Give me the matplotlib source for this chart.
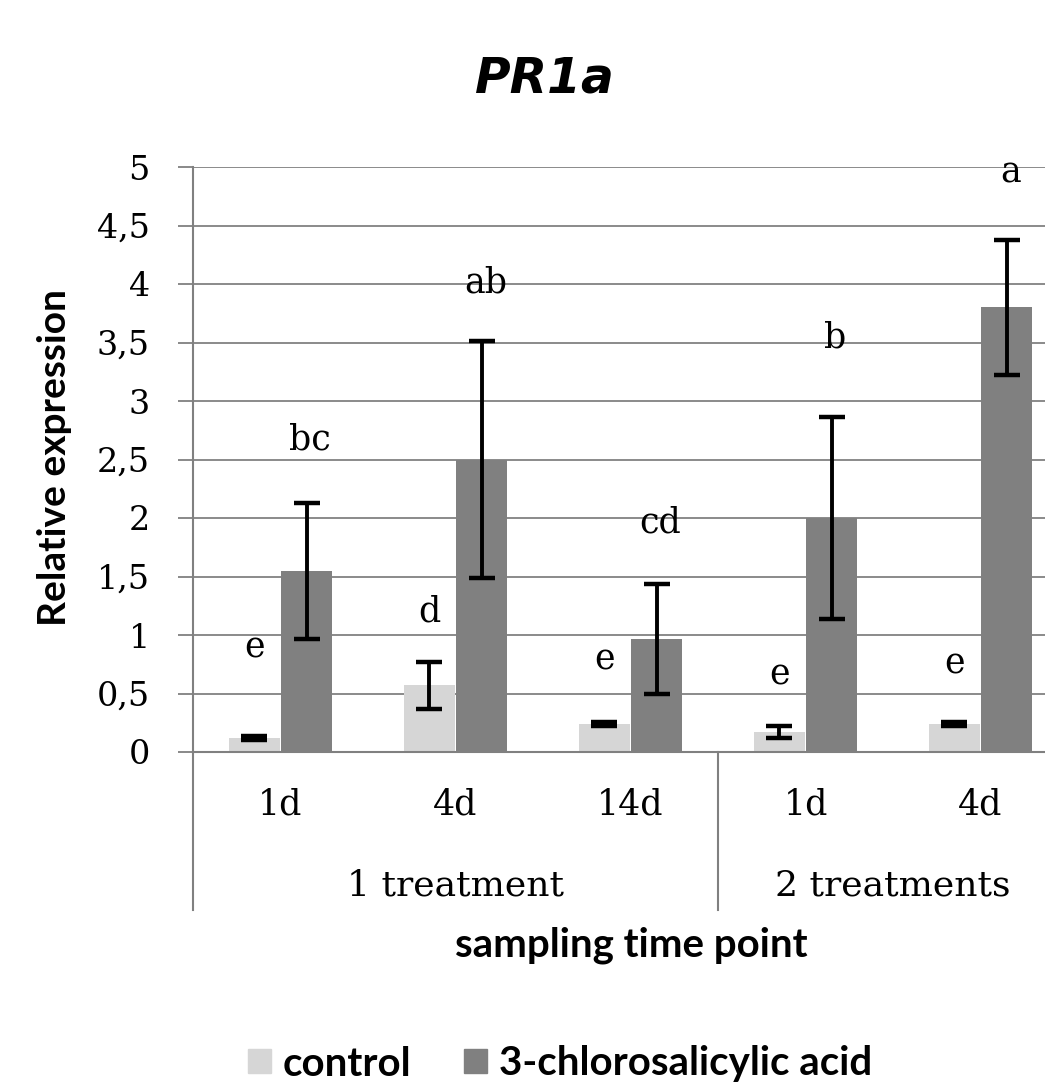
import numpy as np
import matplotlib.pyplot as plt
from matplotlib.patches import Patch

# données
times = ["1d", "4d", "14d", "1d", "4d"]
groups = ["1 treatment", "2 treatments"]
group_sizes = [3, 2]
control = [0.12, 0.57, 0.24, 0.17, 0.24]
control_err = [0.02, 0.20, 0.02, 0.05, 0.02]
acid = [1.55, 2.50, 0.97, 2.00, 3.80]
acid_err = [0.58, 1.01, 0.47, 0.86, 0.58]
control_letters = ["e", "d", "e", "e", "e"]
control_letter_y = [0.89, 1.20, 0.79, 0.66, 0.76]
acid_letters = ["bc", "ab", "cd", "b", "a"]
acid_letter_y = [2.67, 4.01, 1.96, 3.54, 4.95]
yticks = np.arange(0, 5.01, 0.5)

W, H = 1045, 1089
fig = plt.figure(figsize=(W / 100, H / 100), dpi=100)

def fx(px):
    return px / W

def fy(py):
    return 1 - py / H

left, right, top, bottom = 193, 1068, 167, 752
ax = fig.add_axes([fx(left), fy(bottom), fx(right) - fx(left), fy(top) - fy(bottom)])

x = np.arange(len(times))
w = 0.29
off = 0.15
c_light = "#d6d6d6"
c_dark = "#808080"
serif = "DejaVu Serif"

ax.set_axisbelow(True)
ax.yaxis.grid(True, color="#8a8a8a", lw=1.4)
ax.bar(x - off, control, w, color=c_light, zorder=2)
ax.bar(x + off, acid, w, color=c_dark, zorder=2)
ekw = dict(fmt="none", ecolor="black", elinewidth=2.8, capsize=9.5, capthick=3.2, zorder=3)
ax.errorbar(x - off, control, yerr=control_err, **ekw)
ax.errorbar(x + off, acid, yerr=acid_err, **ekw)

for i in range(len(times)):
    ax.text(x[i] - off, control_letter_y[i], control_letters[i], ha="center", va="center",
            fontsize=25, family=serif)
    ax.text(x[i] + off + 0.02, acid_letter_y[i], acid_letters[i], ha="center", va="center",
            fontsize=25, family=serif)

ax.set_xlim(-0.5, len(times) - 0.5)
ax.set_ylim(0, 5)
ax.set_yticks(yticks)
ax.set_yticklabels([f"{t:g}".replace(".", ",") for t in yticks], family=serif, fontsize=24)
ax.tick_params(axis="y", direction="out", length=11, width=1.3, color="#808080", pad=20)
ax.set_xticks([])

for s in ["top", "right"]:
    ax.spines[s].set_visible(False)
ax.spines["left"].set_color("#808080")
ax.spines["left"].set_linewidth(1.5)
ax.spines["bottom"].set_color("#808080")
ax.spines["bottom"].set_linewidth(1.5)

# axe des catégories à deux niveaux
low = (bottom - 910) / (bottom - top)
ax.plot([-0.5, -0.5], [0, low], transform=ax.get_xaxis_transform(), color="#808080",
        lw=1.5, clip_on=False)
start = 0
for g, n in zip(groups, group_sizes):
    end = start + n
    if end < len(times):
        ax.plot([end - 0.5, end - 0.5], [0, low], transform=ax.get_xaxis_transform(),
                color="#808080", lw=1.5, clip_on=False)
    ax.text((start + end - 1) / 2, -0.228, g, transform=ax.get_xaxis_transform(),
            ha="center", va="center", fontsize=26, family=serif)
    start = end
for i, t in enumerate(times):
    ax.text(x[i], -0.09, t, transform=ax.get_xaxis_transform(), ha="center", va="center",
            fontsize=25, family=serif)

fig.text(fx(545), fy(78), "PR1a", ha="center", va="center", fontsize=35,
         fontweight="bold", style="italic", family="DejaVu Sans")
fig.text(fx(55), fy(458), "Relative expression", rotation=90, ha="center", va="center",
         fontsize=28, fontweight="bold", family="Lato")
fig.text(fx(631), fy(945), "sampling time point", ha="center", va="center",
         fontsize=29, fontweight="bold", family="Lato")

handles = [Patch(color=c_light, label="control"), Patch(color=c_dark, label="3-chlorosalicylic acid")]
fig.legend(handles=handles, loc="center", bbox_to_anchor=(fx(560), fy(1064)), ncol=2, frameon=False,
           prop={"family": "Lato", "weight": "bold", "size": 29}, handlelength=0.57, handleheight=0.55,
           handletextpad=0.3, columnspacing=1.3, borderpad=0.1)

fig.savefig("out.png", dpi=100)
